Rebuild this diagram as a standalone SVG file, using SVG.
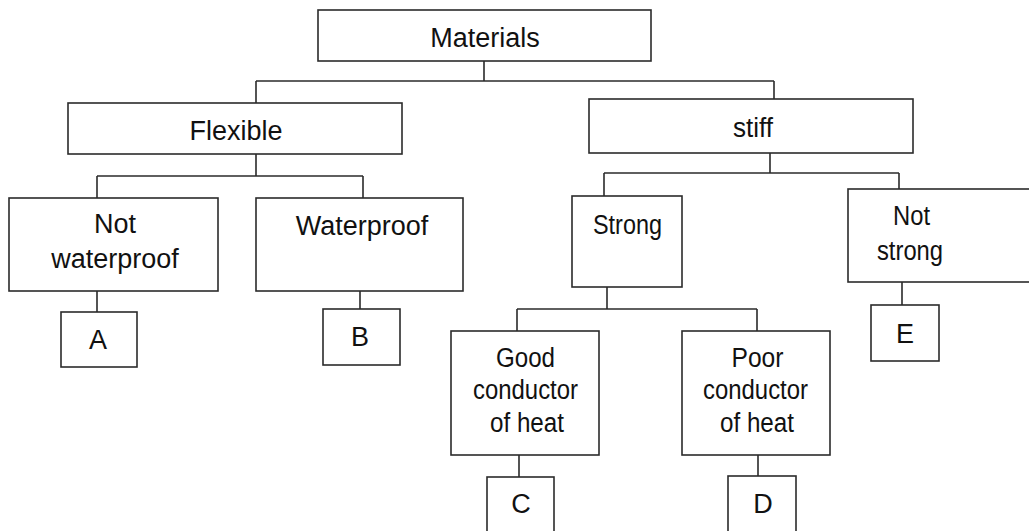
<svg xmlns="http://www.w3.org/2000/svg" width="1029" height="531" viewBox="0 0 1029 531">
<style>
.box{fill:#fff;stroke:#2b2b2b;stroke-width:1.6}
.ln{fill:none;stroke:#2b2b2b;stroke-width:1.6}
text{font-family:"Liberation Sans",Arial,sans-serif;font-size:27px;fill:#111;text-anchor:middle}
.nar{font-size:26px}
</style>
<rect width="1029" height="531" fill="#fff"/>
<g id="connectors">
<path class="ln" d="M484,61V81M256,81H774M256,81V103M774,81V99"/>
<path class="ln" d="M256,154V176M97,176H363M97,176V198M363,176V198"/>
<path class="ln" d="M97,291V312M360,291V309"/>
<path class="ln" d="M770,153V173M604,173H899M604,173V196M899,173V189"/>
<path class="ln" d="M607,287V309M517,309H757M517,309V331M757,309V331"/>
<path class="ln" d="M519,455V477M758,455V476M902,282V305"/>
</g>
<g id="materials"><rect class="box" x="318" y="10" width="333" height="51"/><text x="485" y="47">Materials</text></g>
<g id="flexible"><rect class="box" x="68" y="103" width="334" height="51"/><text x="236" y="140">Flexible</text></g>
<g id="stiff"><rect class="box" x="589" y="99" width="324" height="54"/><text x="753" y="137" textLength="40" lengthAdjust="spacingAndGlyphs">stiff</text></g>
<g id="not-waterproof"><rect class="box" x="9" y="198" width="209" height="93"/><text x="115" y="233">Not</text><text x="115" y="268">waterproof</text></g>
<g id="waterproof"><rect class="box" x="256" y="198" width="207" height="93"/><text x="362" y="235">Waterproof</text></g>
<g id="a"><rect class="box" x="61" y="312" width="76" height="55"/><text x="98" y="349">A</text></g>
<g id="b"><rect class="box" x="323" y="309" width="77" height="56"/><text x="360" y="346">B</text></g>
<g id="strong"><rect class="box" x="572" y="196" width="110" height="91"/><text x="627.5" y="234" textLength="69" lengthAdjust="spacingAndGlyphs">Strong</text></g>
<g id="not-strong"><rect class="box" x="848" y="189" width="200" height="93"/><text x="911.5" y="225" textLength="37" lengthAdjust="spacingAndGlyphs">Not</text><text x="910" y="260" textLength="66" lengthAdjust="spacingAndGlyphs">strong</text></g>
<g id="e"><rect class="box" x="871" y="305" width="68" height="56"/><text x="905" y="343">E</text></g>
<g id="good"><rect class="box" x="451" y="331" width="148" height="124"/><text x="525.5" y="367" textLength="59" lengthAdjust="spacingAndGlyphs">Good</text><text x="525.5" y="399" textLength="105" lengthAdjust="spacingAndGlyphs">conductor</text><text x="527" y="432" textLength="74" lengthAdjust="spacingAndGlyphs">of heat</text></g>
<g id="poor"><rect class="box" x="682" y="331" width="148" height="124"/><text x="757.5" y="367" textLength="52" lengthAdjust="spacingAndGlyphs">Poor</text><text x="755.5" y="399" textLength="105" lengthAdjust="spacingAndGlyphs">conductor</text><text x="757" y="432" textLength="74" lengthAdjust="spacingAndGlyphs">of heat</text></g>
<g id="c"><rect class="box" x="487" y="477" width="67" height="70"/><text x="521" y="513">C</text></g>
<g id="d"><rect class="box" x="728" y="476" width="68" height="70"/><text x="763" y="513">D</text></g>
</svg>
